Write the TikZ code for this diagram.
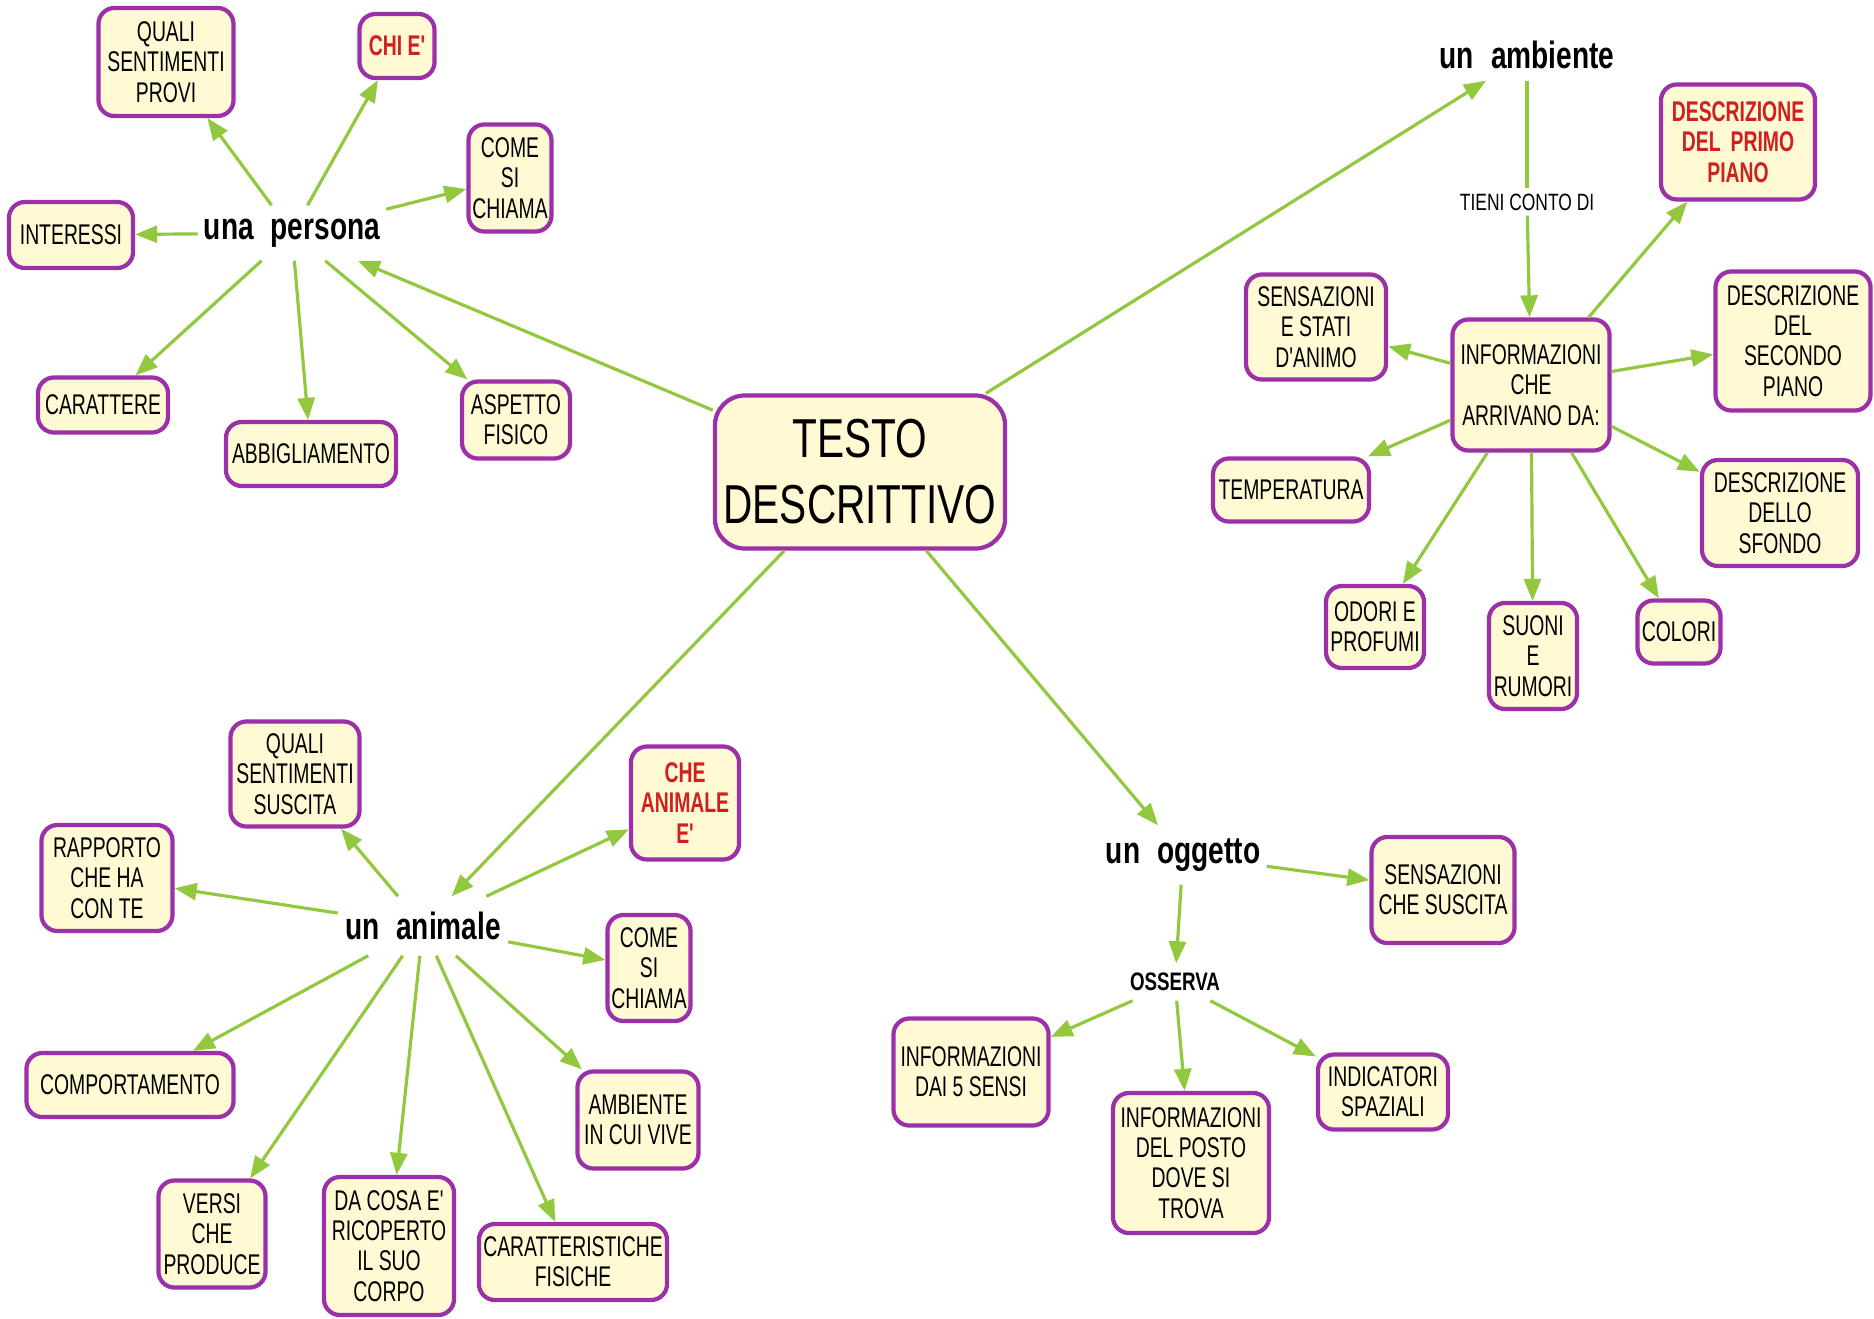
\documentclass[tikz,border=0pt]{standalone}
\usepackage{fontspec}
\newfontfamily\mapfont{Liberation Sans}[FakeStretch=0.68]
\newfontfamily\widefont{Liberation Sans}[FakeStretch=0.74]
\usetikzlibrary{arrows.meta}
\definecolor{boxpurple}{HTML}{9B30A8}
\definecolor{boxfill}{HTML}{FFFAD4}
\definecolor{linkgreen}{HTML}{92C83E}
\definecolor{titlered}{HTML}{D01F1F}
\tikzset{
  box/.style={draw=boxpurple, fill=boxfill, line width=1.2pt, rounded corners=0.16cm,
    align=center, inner sep=0pt, font=\mapfont\fontsize{8.1}{8.6}\selectfont},
  redbox/.style={box, text=titlered, font=\mapfont\bfseries\fontsize{8.1}{8.6}\selectfont},
  topic/.style={inner sep=0pt, align=center, font=\widefont\bfseries\fontsize{10.8}{12}\selectfont},
  tag/.style={inner sep=0pt, align=center},
  link/.style={draw=linkgreen, line width=0.9pt, -{Triangle[length=0.22cm,width=0.17cm]}},
  plainlink/.style={draw=linkgreen, line width=0.9pt},
}
\begin{document}
\begin{tikzpicture}[x=0.01cm,y=-0.01cm]
\path[use as bounding box, fill=white] (0,0) rectangle (1874,1318);

% central concept
\node[box, rounded corners=0.3cm, minimum width=2.9cm, minimum height=1.53cm,
  font=\widefont\fontsize{15.6}{18.8}\selectfont] (main) at (860,472) {TESTO\\DESCRITTIVO};

% --- una persona ---
\node[topic, minimum width=1.87cm, minimum height=0.54cm] (persona) at (292,233) {una\hspace{0.17cm}persona};
\node[box, minimum width=1.35cm, minimum height=1.08cm] (feel) at (166,62) {QUALI\\SENTIMENTI\\PROVI};
\node[redbox, minimum width=0.75cm, minimum height=0.64cm] (who) at (397,46) {CHI E'};
\node[box, minimum width=0.83cm, minimum height=1.07cm] (pname) at (510,178) {COME\\SI\\CHIAMA};
\node[box, minimum width=1.24cm, minimum height=0.66cm] (hobby) at (71,235) {INTERESSI};
\node[box, minimum width=1.30cm, minimum height=0.55cm] (temper) at (103,405) {CARATTERE};
\node[box, minimum width=1.70cm, minimum height=0.64cm] (clothes) at (311,454) {ABBIGLIAMENTO};
\node[box, minimum width=1.08cm, minimum height=0.77cm] (looks) at (516,420) {ASPETTO\\FISICO};

% --- un ambiente ---
\node[topic, minimum width=1.9cm, minimum height=0.5cm] (place) at (1527,55) {un\hspace{0.17cm}ambiente};
\node[tag, font=\widefont\fontsize{6.7}{8}\selectfont, minimum width=1.4cm, minimum height=0.26cm] (tieni) at (1527,202) {TIENI CONTO DI};
\node[redbox, minimum width=1.54cm, minimum height=1.15cm] (front) at (1738,142) {DESCRIZIONE\\DEL\hspace{0.1cm}PRIMO\\PIANO};
\node[box, minimum width=1.40cm, minimum height=1.05cm] (mood) at (1316,327) {SENSAZIONI\\E STATI\\D'ANIMO};
\node[box, minimum width=1.57cm, minimum height=1.31cm] (info) at (1531,385) {INFORMAZIONI\\CHE\\ARRIVANO DA:};
\node[box, minimum width=1.55cm, minimum height=1.39cm] (middle) at (1793,341) {DESCRIZIONE\\DEL\\SECONDO\\PIANO};
\node[box, minimum width=1.56cm, minimum height=0.63cm] (temp) at (1291,490) {TEMPERATURA};
\node[box, minimum width=1.56cm, minimum height=1.06cm] (back) at (1780,513) {DESCRIZIONE\\DELLO\\SFONDO};
\node[box, minimum width=0.98cm, minimum height=0.82cm] (smell) at (1375,627) {ODORI E\\PROFUMI};
\node[box, minimum width=0.88cm, minimum height=1.06cm] (sound) at (1533,656) {SUONI\\E\\RUMORI};
\node[box, minimum width=0.83cm, minimum height=0.63cm] (colour) at (1679,632) {COLORI};

% --- un animale ---
\node[topic, minimum width=1.69cm, minimum height=0.58cm] (animal) at (423,926) {un\hspace{0.17cm}animale};
\node[box, minimum width=1.29cm, minimum height=1.05cm] (afeel) at (295,774) {QUALI\\SENTIMENTI\\SUSCITA};
\node[redbox, minimum width=1.08cm, minimum height=1.13cm] (which) at (685,803) {CHE\\ANIMALE\\E'};
\node[box, minimum width=1.31cm, minimum height=1.06cm] (bond) at (107,878) {RAPPORTO\\CHE HA\\CON TE};
\node[box, minimum width=0.83cm, minimum height=1.06cm] (aname) at (649,968) {COME\\SI\\CHIAMA};
\node[box, minimum width=2.07cm, minimum height=0.64cm] (habits) at (130,1085) {COMPORTAMENTO};
\node[box, minimum width=1.21cm, minimum height=0.97cm] (habitat) at (638,1120) {AMBIENTE\\IN CUI VIVE};
\node[box, minimum width=1.07cm, minimum height=1.07cm] (calls) at (212,1234) {VERSI\\CHE\\PRODUCE};
\node[box, minimum width=1.30cm, minimum height=1.38cm] (coat) at (389,1246) {DA COSA E'\\RICOPERTO\\IL SUO\\CORPO};
\node[box, minimum width=1.88cm, minimum height=0.76cm] (traits) at (573,1262) {CARATTERISTICHE\\FISICHE};

% --- un oggetto ---
\node[topic, minimum width=1.66cm, minimum height=0.58cm] (thing) at (1183,855) {un\hspace{0.17cm}oggetto};
\node[box, minimum width=1.43cm, minimum height=1.06cm] (tfeel) at (1443,890) {SENSAZIONI\\CHE SUSCITA};
\node[tag, font=\widefont\bfseries\fontsize{7.2}{8}\selectfont, minimum width=0.85cm, minimum height=0.36cm] (look) at (1175,982) {OSSERVA};
\node[box, minimum width=1.55cm, minimum height=1.07cm] (senses) at (971,1072) {INFORMAZIONI\\DAI 5 SENSI};
\node[box, minimum width=1.56cm, minimum height=1.40cm] (spot) at (1191,1163) {INFORMAZIONI\\DEL POSTO\\DOVE SI\\TROVA};
\node[box, minimum width=1.30cm, minimum height=0.75cm] (spatial) at (1383,1092) {INDICATORI\\SPAZIALI};

% connectors from the central concept
\draw[link] (main) -- (persona);
\draw[link] (main) -- (place);
\draw[link] (main) -- (animal);
\draw[link] (main) -- (thing);

% una persona
\foreach \t in {feel,who,pname,hobby,temper,clothes,looks}
  \draw[link] (persona) -- (\t);

% un ambiente
\draw[plainlink] (place) -- (tieni);
\draw[link] (tieni) -- (info);
\foreach \t in {front,mood,middle,temp,back,smell,sound,colour}
  \draw[link] (info) -- (\t);

% un animale
\foreach \t in {afeel,which,bond,aname,habits,habitat,calls,coat,traits}
  \draw[link] (animal) -- (\t);

% un oggetto
\draw[link] (thing) -- (tfeel);
\draw[link] (thing) -- (look);
\foreach \t in {senses,spot,spatial}
  \draw[link] (look) -- (\t);
\end{tikzpicture}
\end{document}
